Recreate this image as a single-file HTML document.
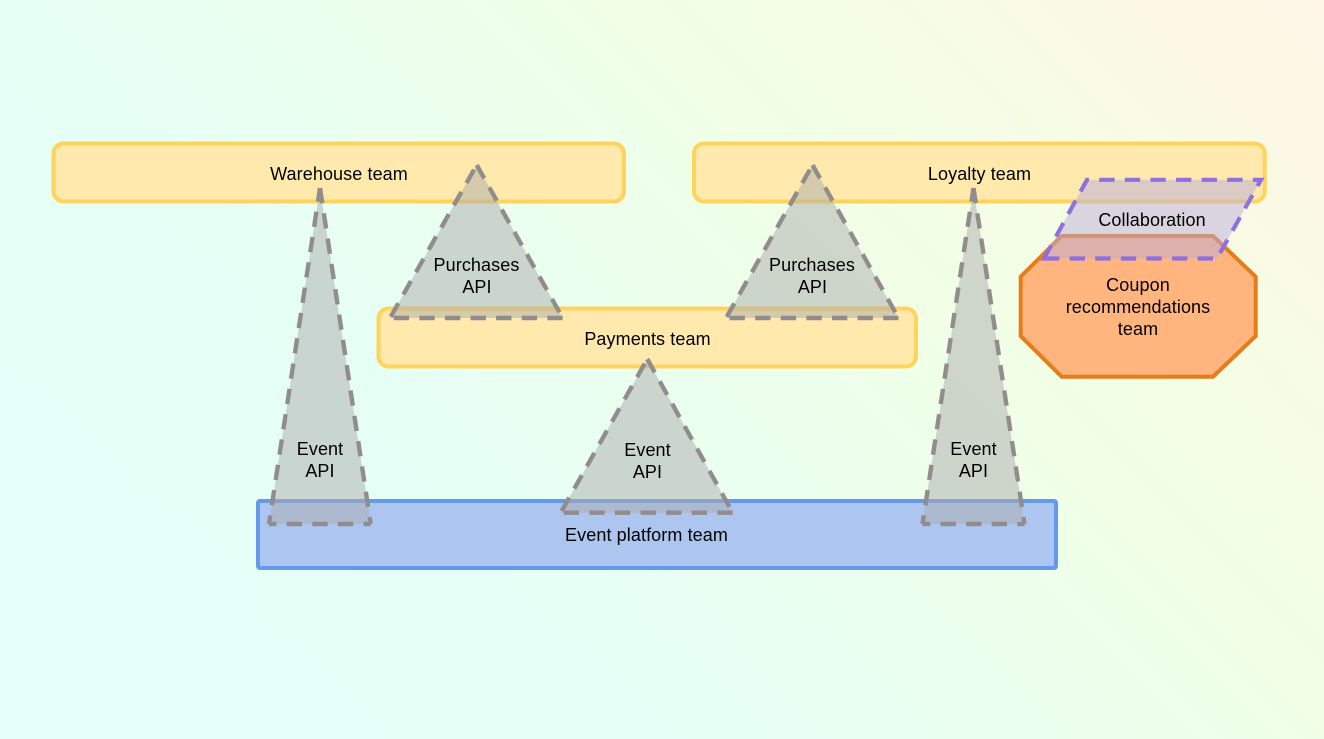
<!DOCTYPE html>
<html>
<head>
<meta charset="utf-8">
<style>
html,body{margin:0;padding:0;width:1324px;height:739px;overflow:hidden}
body{background:linear-gradient(45deg,#e6fffa 0%,#e6fff5 36%,#f0ffe6 66%,#f9fbe4 85%,#fff5e6 100%)}
svg{display:block}
text{font-family:"Liberation Sans",Arial,sans-serif;font-size:18px;letter-spacing:.1px;fill:#000;text-anchor:middle}
.y{fill:#ffe9ad;stroke:#ffd35c;stroke-width:4}
.f{fill:#ababab;fill-opacity:.5;stroke:none}
.d{fill:none;stroke:#918d8d;stroke-width:4.4;stroke-dasharray:15.36 10.24}
.l{stroke-dashoffset:20.2}
.tl{stroke-dashoffset:1.66}
.tb{stroke-dashoffset:8.16}
</style>
</head>
<body>
<svg width="1324" height="739" viewBox="0 0 1324 739" xmlns="http://www.w3.org/2000/svg">
<rect class="y" x="53.5" y="143.5" width="570.5" height="58" rx="10"/>
<rect class="y" x="694" y="143.5" width="570.7" height="58" rx="10"/>
<rect class="y" x="378.5" y="308.5" width="537.5" height="58" rx="10"/>
<rect x="258" y="501" width="798" height="67" rx="2" fill="#adc6f0" stroke="#6699ea" stroke-width="4"/>
<polygon points="1061.7,236 1213,236 1255.7,276.7 1255.7,336 1213,376.7 1061.7,376.7 1020.7,336 1020.7,276.7" fill="#ffb57d" stroke="#e57d1a" stroke-width="4"/>

<text x="339" y="180">Warehouse team</text>
<text x="979.5" y="180">Loyalty team</text>
<text x="647.5" y="345">Payments team</text>
<text x="646.5" y="541">Event platform team</text>
<text x="1138" y="291">Coupon</text>
<text x="1138" y="313">recommendations</text>
<text x="1138" y="335">team</text>

<!-- Purchases API (left) -->
<path class="f" d="M476.7 165L562.7 318L390 318Z"/>
<path class="d" d="M476.7 165L562.7 318"/>
<path class="d" d="M562.7 318L390 318"/>
<path class="d l" d="M476.7 165L390 318"/>
<!-- Purchases API (right) -->
<path class="f" d="M812.5 165L898.5 318L726 318Z"/>
<path class="d" d="M812.5 165L898.5 318"/>
<path class="d" d="M898.5 318L726 318"/>
<path class="d l" d="M812.5 165L726 318"/>
<!-- Event API (centre) -->
<path class="f" d="M647.3 359L732.7 512.7L560.7 512.7Z"/>
<path class="d" d="M647.3 359L732.7 512.7"/>
<path class="d" d="M732.7 512.7L560.7 512.7"/>
<path class="d l" d="M647.3 359L560.7 512.7"/>
<!-- Event API (left tall) -->
<path class="f" d="M320 188L370.7 524L269 524Z"/>
<path class="d" d="M320 188L370.7 524"/>
<path class="d tb" d="M370.7 524L269 524"/>
<path class="d tl" d="M320 188L269 524"/>
<!-- Event API (right tall) -->
<path class="f" d="M973.5 188L1024.5 524L922.5 524Z"/>
<path class="d" d="M973.5 188L1024.5 524"/>
<path class="d tb" d="M1024.5 524L922.5 524"/>
<path class="d tl" d="M973.5 188L922.5 524"/>
<!-- Collaboration -->
<path d="M1044 258.5L1217 258.5L1261 179.8L1087 179.8Z" fill="#baaddc" fill-opacity=".5" stroke="#8f70e0" stroke-width="4.2" stroke-dasharray="15.36 10.24"/>

<text x="476.5" y="271">Purchases</text>
<text x="477" y="293">API</text>
<text x="812" y="271">Purchases</text>
<text x="812.5" y="293">API</text>
<text x="647.5" y="456">Event</text>
<text x="647.5" y="478">API</text>
<text x="320" y="455">Event</text>
<text x="320" y="477">API</text>
<text x="973.5" y="455">Event</text>
<text x="973.5" y="477">API</text>
<text x="1152" y="226">Collaboration</text>
</svg>
</body>
</html>
